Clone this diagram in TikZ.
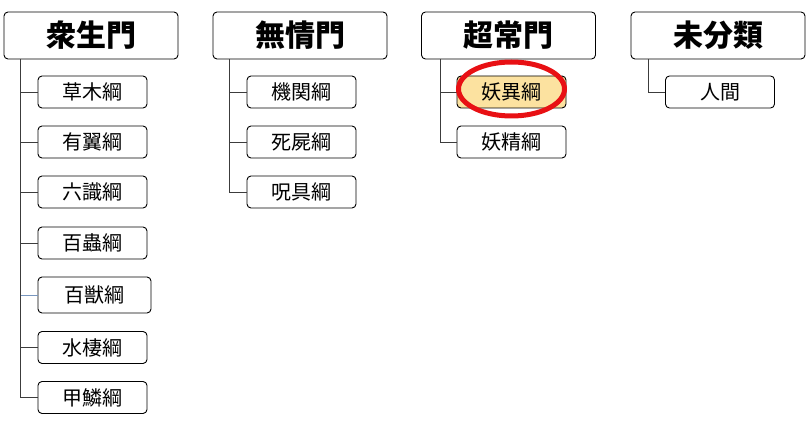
\documentclass[tikz,border=0pt]{standalone}
\usepackage{fontspec}
\newfontfamily\cjk{Noto Sans CJK JP}
\usetikzlibrary{shapes.geometric}
\definecolor{conngray}{RGB}{60,60,60}
\definecolor{connblue}{RGB}{120,150,190}
\definecolor{hlfill}{RGB}{252,226,160}
\definecolor{hlred}{RGB}{232,16,20}
\tikzset{
  topbox/.style={draw=black, line width=0.9pt, rounded corners=4pt, fill=white,
    minimum width=174pt, minimum height=47pt, inner sep=0pt,
    font=\cjk\bfseries\fontsize{30}{30}\selectfont},
  childbox/.style={draw=black, line width=0.9pt, rounded corners=4pt, fill=white,
    minimum width=109pt, minimum height=32pt, inner sep=0pt,
    font=\cjk\fontsize{20}{20}\selectfont},
  conn/.style={draw=conngray, line width=0.9pt},
}
\begin{document}
\begin{tikzpicture}[x=1pt,y=-1pt]
\useasboundingbox (0,0) rectangle (806,422);
% top boxes
\node[topbox] (g1) at (91,35.5) {衆生門};
\node[topbox] (g2) at (300,35.5) {無情門};
\node[topbox] (g3) at (508.5,35.5) {超常門};
\node[topbox] (g4) at (718,35.5) {未分類};
% group 1 children
\node[childbox] (c1) at (92.5,92) {草木綱};
\node[childbox] (c2) at (92.5,142) {有翼綱};
\node[childbox] (c3) at (92.5,192) {六識綱};
\node[childbox] (c4) at (92.5,243) {百蟲綱};
\node[childbox, minimum width=113pt, minimum height=36pt] (c5) at (94.5,295) {百獣綱};
\node[childbox] (c6) at (92.5,347.5) {水棲綱};
\node[childbox] (c7) at (92.5,397.5) {甲鱗綱};
% group 2 children
\node[childbox] (d1) at (301.5,92) {機関綱};
\node[childbox] (d2) at (301.5,142) {死屍綱};
\node[childbox] (d3) at (301.5,192) {呪具綱};
% group 3 children
\node[childbox, fill=hlfill] (e1) at (511.5,92) {妖異綱};
\node[childbox] (e2) at (511.5,142) {妖精綱};
% group 4 children
\node[childbox] (f1) at (720,92) {人間};
% trunk coordinates
\coordinate (t1) at (20.5,0);
\coordinate (t2) at (229.5,0);
\coordinate (t3) at (440,0);
\coordinate (t4) at (648,0);
% connectors
\draw[conn] (g1.south -| t1) |- (c7.west);
\foreach \c in {c1,c2,c3,c4,c6} \draw[conn] (\c.west) -- (\c.west -| t1);
\draw[draw=connblue, line width=0.9pt] (c5.west) -- (c5.west -| t1);
\draw[conn] (g2.south -| t2) |- (d3.west);
\foreach \c in {d1,d2} \draw[conn] (\c.west) -- (\c.west -| t2);
\draw[conn] (g3.south -| t3) |- (e2.west);
\draw[conn] (e1.west) -- (e1.west -| t3);
\draw[conn] (g4.south -| t4) |- (f1.west);
% highlight ellipse
\node[ellipse, draw=hlred, line width=5pt, minimum width=106pt, minimum height=54pt, inner sep=0pt] (hl) at (511.5,89) {};
\end{tikzpicture}
\end{document}
